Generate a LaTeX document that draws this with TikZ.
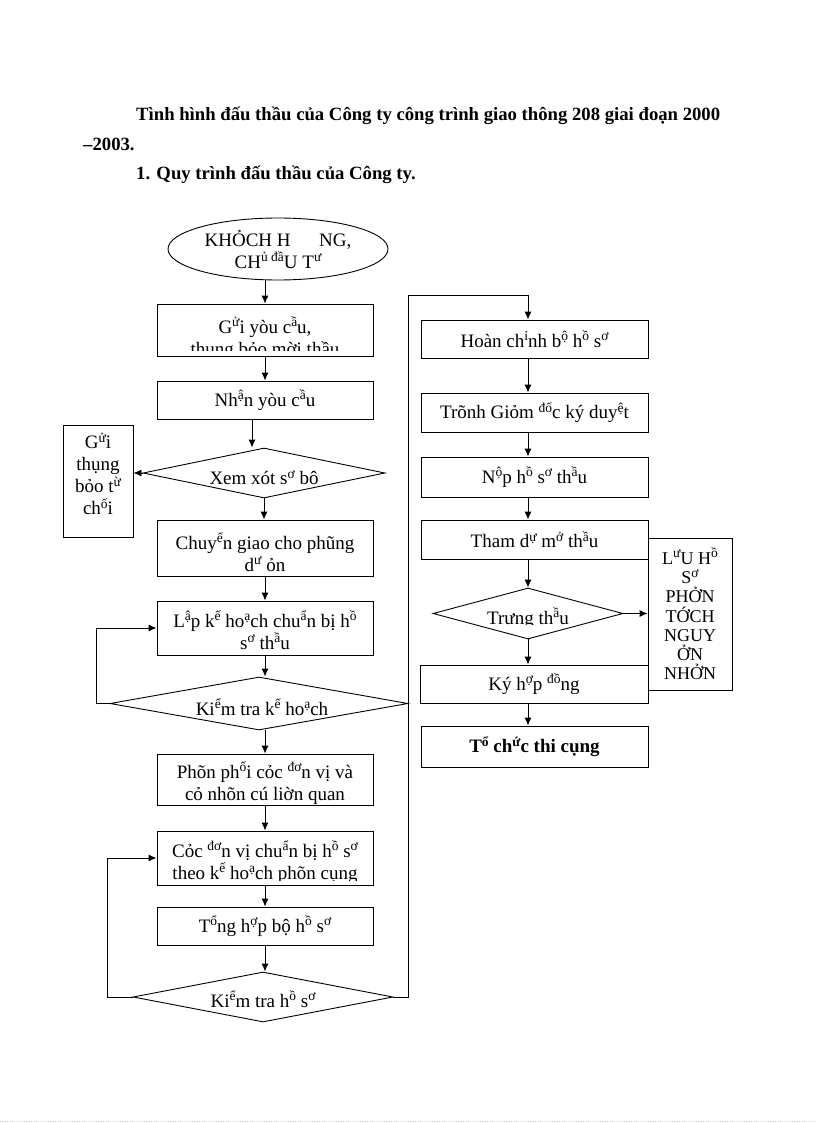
\documentclass[tikz,border=0pt]{standalone}
\usepackage{fontspec}
\setmainfont{Liberation Serif}
\usetikzlibrary{shapes.geometric}
\usetikzlibrary{arrows.meta}
\usetikzlibrary{positioning}
\tikzset{>={Latex[width=7pt,length=8pt]}}

% chu dau nho, nang len
\newcommand{\hi}[1]{\raisebox{6.5pt}{\fontsize{13.5}{13.5}\selectfont #1}}
% chu bi cat o duoi
\newcommand{\cutnode}[4]{%
  \begin{scope}
    \clip (0,0) rectangle (816,#3);
    \node[txt] (#1) at (#2) {#4};
  \end{scope}}

\begin{document}
\begin{tikzpicture}[x=1pt,y=-1pt,
  box/.style={draw, line width=0.9pt, inner sep=0pt},
  dia/.style={box, diamond},
  txt/.style={align=center, inner sep=0pt, font=\fontsize{19}{22}\selectfont},
  title/.style={anchor=base west, inner sep=0pt, font=\bfseries\fontsize{18.7}{22}\selectfont},
  line/.style={line width=0.9pt}]

  \useasboundingbox (0,0) rectangle (816,1123);

  \coordinate (rc) at (528,0);
  \coordinate (turn) at (408,295);

  \node[title] (t1) at (136,121) {Tình hình đấu thầu của Công ty công trình giao thông 208 giai đoạn 2000};
  \node[title] (t2) at (83,151) {–2003.};
  \node[title] (t3) at (136,180) {1. Quy trình đấu thầu của Công ty.};

  % cot trai
  \node[box, ellipse, txt, minimum width=220, minimum height=62] (khach) at (278,249)
    {KHỎCH H\hspace{1.5em}NG,\\CH\hi{ủ đầ}U T\hi{ư}};

  \node[box, minimum width=216, minimum height=52] (gui) at (265,330) {};
  \cutnode{tgui}{265,338}{350}{G\hi{ử}i yòu c\hi{ầ}u,\\thụng bỏo mời thầu}

  \node[box, txt, minimum width=216, minimum height=38] (nhan) at (265,400) {Nh\hi{ậ}n yòu c\hi{ầ}u};

  \node[dia, minimum width=242, minimum height=50] (xem) at (264,473) {};
  \cutnode{txem}{264,479}{484}{Xem xót s\hi{ơ} bộ}

  \node[box, minimum width=70, minimum height=112] (tuchoi) at (98,481) {};
  \node[txt] (ttuchoi) at (98,474) {G\hi{ử}i\\thụng\\bỏo t\hi{ừ}\\ch\hi{ố}i};

  \node[box, minimum width=216, minimum height=56] (chuyen) at (265,548) {};
  \cutnode{tchuyen}{265,552}{572}{Chuy\hi{ể}n giao cho phũng\\d\hi{ư} ỏn}

  \node[box, minimum width=216, minimum height=54] (lap) at (265,628) {};
  \cutnode{tlap}{265,630}{649}{L\hi{ậ}p k\hi{ế} ho\hi{ạ}ch chu\hi{ẩ}n bị h\hi{ồ}\\s\hi{ơ} th\hi{ầ}u}

  \node[dia, minimum width=298, minimum height=53] (kthk) at (259,703.5) {};
  \cutnode{tkthk}{262,707}{715}{Ki\hi{ể}m tra k\hi{ế} ho\hi{ạ}ch}

  \node[box, minimum width=216, minimum height=51] (phan) at (265,779.5) {};
  \node[txt] (tphan) at (265,783) {Phõn ph\hi{ố}i cỏc \hi{đơ}n vị và\\cỏ nhõn cú liờn quan};

  \node[box, minimum width=216, minimum height=54] (cac) at (265,858) {};
  \cutnode{tcac}{265,862}{880}{Cỏc \hi{đơ}n vị chu\hi{ẩ}n bị h\hi{ồ} s\hi{ơ}\\theo k\hi{ế} ho\hi{ạ}ch phõn cụng}

  \node[box, txt, minimum width=216, minimum height=38] (tong) at (265,926) {T\hi{ổ}ng h\hi{ợ}p bộ h\hi{ồ} s\hi{ơ}};

  \node[dia, minimum width=260, minimum height=50] (kths) at (263,997) {};
  \node[txt] (tkths) at (263,999) {Ki\hi{ể}m tra h\hi{ồ} s\hi{ơ}};

  % cot phai
  \node[box, txt, minimum width=227, minimum height=38] (hoan) at (534.5,339) {Hoàn ch\hi{ỉ}nh b\hi{ộ} h\hi{ồ} s\hi{ơ}};
  \node[box, txt, minimum width=227, minimum height=39] (trinh) at (534.5,412.5) {Trõnh Giỏm \hi{đố}c ký duy\hi{ệ}t};
  \node[box, txt, minimum width=227, minimum height=40] (nop) at (534.5,477) {N\hi{ộ}p h\hi{ồ} s\hi{ơ} th\hi{ầ}u};
  \node[box, txt, minimum width=227, minimum height=39] (tham) at (534.5,539.5) {Tham d\hi{ự} m\hi{ở} th\hi{ầ}u};

  \node[dia, minimum width=190, minimum height=51] (trung) at (528,613.5) {};
  \cutnode{ttrung}{528,618}{624}{Trưng th\hi{ầ}u}

  \node[box, txt, minimum width=228, minimum height=38] (ky) at (534,684) {Ký h\hi{ợ}p \hi{đồ}ng};
  \node[box, txt, minimum width=227, minimum height=41] (tochuc) at (534.5,746.5) {\bfseries T\hi{ổ} ch\hi{ứ}c thi cụng};

  \node[box, minimum width=84, minimum height=152] (luu) at (690,614) {};
  \node[txt, font=\fontsize{18}{19.2}\selectfont] (tluu) at (690,614)
    {L\hi{ư}U H\hi{ồ}\\S\hi{ơ}\\PHỞN\\TỚCH\\NGUY\\ỞN\\NHỞN};

  % mui ten
  \draw[line,->] (khach.south -| gui.north) -- (gui.north);
  \draw[line,->] (gui.south) -- (nhan.north);
  \draw[line,->] ([xshift=-13]nhan.south) -- ([xshift=-13]nhan.south |- xem.north);
  \draw[line,->] (xem.west) -- (xem.west -| tuchoi.east);
  \draw[line,->] (xem.south) -- (xem.south |- chuyen.north);
  \draw[line,->] (chuyen.south) -- (lap.north);
  \draw[line,->] (lap.south) -- (lap.south |- kthk.north);
  \draw[line,->] (kthk.west) -- ++(-13,0) |- (lap.west);
  \draw[line,->] (kthk.south -| phan.north) -- (phan.north);
  \draw[line,->] (phan.south) -- (cac.north);
  \draw[line,->] (cac.south) -- (tong.north);
  \draw[line,->] (tong.south) -- (tong.south |- kths.north);
  \draw[line,->] (kths.west) -- ++(-25,0) |- (cac.west);
  \draw[line,->] (kths.east) -| (turn) -| (hoan.north -| rc);

  \draw[line,->] (hoan.south -| rc) -- (trinh.north -| rc);
  \draw[line,->] (trinh.south -| rc) -- (nop.north -| rc);
  \draw[line,->] (nop.south -| rc) -- (tham.north -| rc);
  \draw[line,->] (tham.south -| rc) -- (trung.north);
  \draw[line,->] (trung.east) -- (trung.east -| luu.west);
  \draw[line,->] (trung.south) -- (ky.north -| rc);
  \draw[line,->] (ky.south -| rc) -- (tochuc.north -| rc);

  \draw[gray!40, dotted] (0,1121) -- (816,1121);

\end{tikzpicture}
\end{document}
